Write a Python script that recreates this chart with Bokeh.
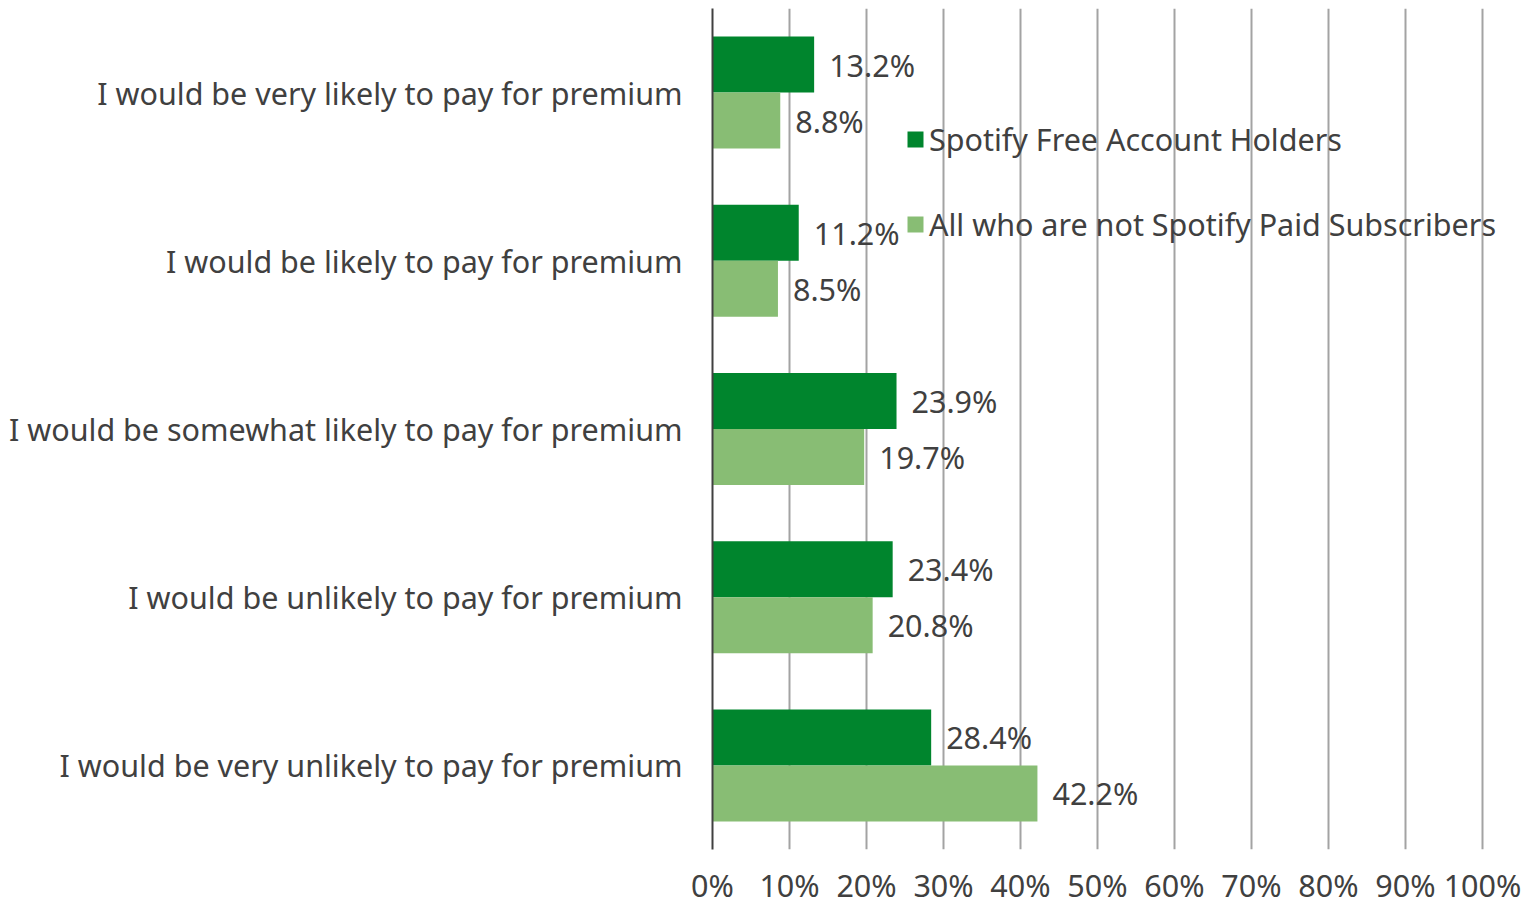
from bokeh.plotting import figure
from bokeh.models import ColumnDataSource, FactorRange, Legend, LegendItem, FixedTicker
from bokeh.transform import dodge
from bokeh.core.properties import value
from bokeh.embed import file_html
from bokeh.resources import INLINE

categories = [
    "I would be very likely to pay for premium",
    "I would be likely to pay for premium",
    "I would be somewhat likely to pay for premium",
    "I would be unlikely to pay for premium",
    "I would be very unlikely to pay for premium",
]
free_holders = [13.2, 11.2, 23.9, 23.4, 28.4]
not_paid = [8.8, 8.5, 19.7, 20.8, 42.2]
series_names = ["Spotify Free Account Holders", "All who are not Spotify Paid Subscribers"]
tick_values = [0, 10, 20, 30, 40, 50, 60, 70, 80, 90, 100]

FONT = "Noto Sans"
FS = "30.5px"
TXT = "#404040"
DARK = "#00852D"
LIGHT = "#88BD74"

src = ColumnDataSource(dict(
    cat=categories,
    free=free_holders,
    notpaid=not_paid,
    free_lbl=[f"{v:.1f}%" for v in free_holders],
    notpaid_lbl=[f"{v:.1f}%" for v in not_paid],
))

# frame spans 712..1502 px; 100% lands at ~1482 px, leaving room for the legend text
p = figure(
    width=1524, height=908,
    y_range=FactorRange(*reversed(categories), range_padding=0),
    x_range=(0, 102.6),
    output_backend="svg", toolbar_location=None,
    min_border_left=712, min_border_right=22, min_border_top=8, min_border_bottom=42,
)
p.outline_line_color = None

r1 = p.hbar(y=dodge("cat", 0.1665, range=p.y_range), right="free", left=0, height=0.333,
            source=src, fill_color=DARK, line_color=None)
r2 = p.hbar(y=dodge("cat", -0.1665, range=p.y_range), right="notpaid", left=0, height=0.333,
            source=src, fill_color=LIGHT, line_color=None)

p.text(x="free", y=dodge("cat", 0.1665, range=p.y_range), text="free_lbl", source=src,
       x_offset=15, text_baseline="middle", text_align="left",
       text_font=value(FONT), text_font_size=FS, text_color=TXT)
p.text(x="notpaid", y=dodge("cat", -0.1665, range=p.y_range), text="notpaid_lbl", source=src,
       x_offset=15, text_baseline="middle", text_align="left",
       text_font=value(FONT), text_font_size=FS, text_color=TXT)

# x axis
p.xaxis.ticker = FixedTicker(ticks=tick_values)
p.xaxis.major_label_overrides = {v: f"{v}%" for v in tick_values}
p.xaxis.axis_line_color = None
p.xaxis.major_tick_line_color = None
p.xaxis.minor_tick_line_color = None
p.xaxis.major_tick_out = 0
p.xaxis.major_label_standoff = 14
p.xaxis.major_label_text_font = FONT
p.xaxis.major_label_text_font_size = FS
p.xaxis.major_label_text_color = TXT

# y axis
p.yaxis.axis_line_color = "#404040"
p.yaxis.axis_line_width = 2
p.yaxis.major_tick_line_color = None
p.yaxis.minor_tick_line_color = None
p.yaxis.major_tick_out = 0
p.yaxis.major_label_standoff = 30
p.yaxis.major_label_text_font = FONT
p.yaxis.major_label_text_font_size = FS
p.yaxis.major_label_text_color = TXT

p.ygrid.grid_line_color = None
p.xgrid.grid_line_color = "#A3A3A3"
p.xgrid.grid_line_width = 2

legend = Legend(
    items=[LegendItem(label=series_names[0], renderers=[r1]),
           LegendItem(label=series_names[1], renderers=[r2])],
    location=(193, 604),
    orientation="vertical",
    glyph_width=20, glyph_height=20,
    label_standoff=4,
    label_text_font=FONT, label_text_font_size=FS, label_text_color=TXT,
    spacing=43, padding=0, margin=0,
    border_line_color=None, background_fill_alpha=0,
)
p.add_layout(legend)

open("out.html", "w").write(file_html(p, INLINE))
